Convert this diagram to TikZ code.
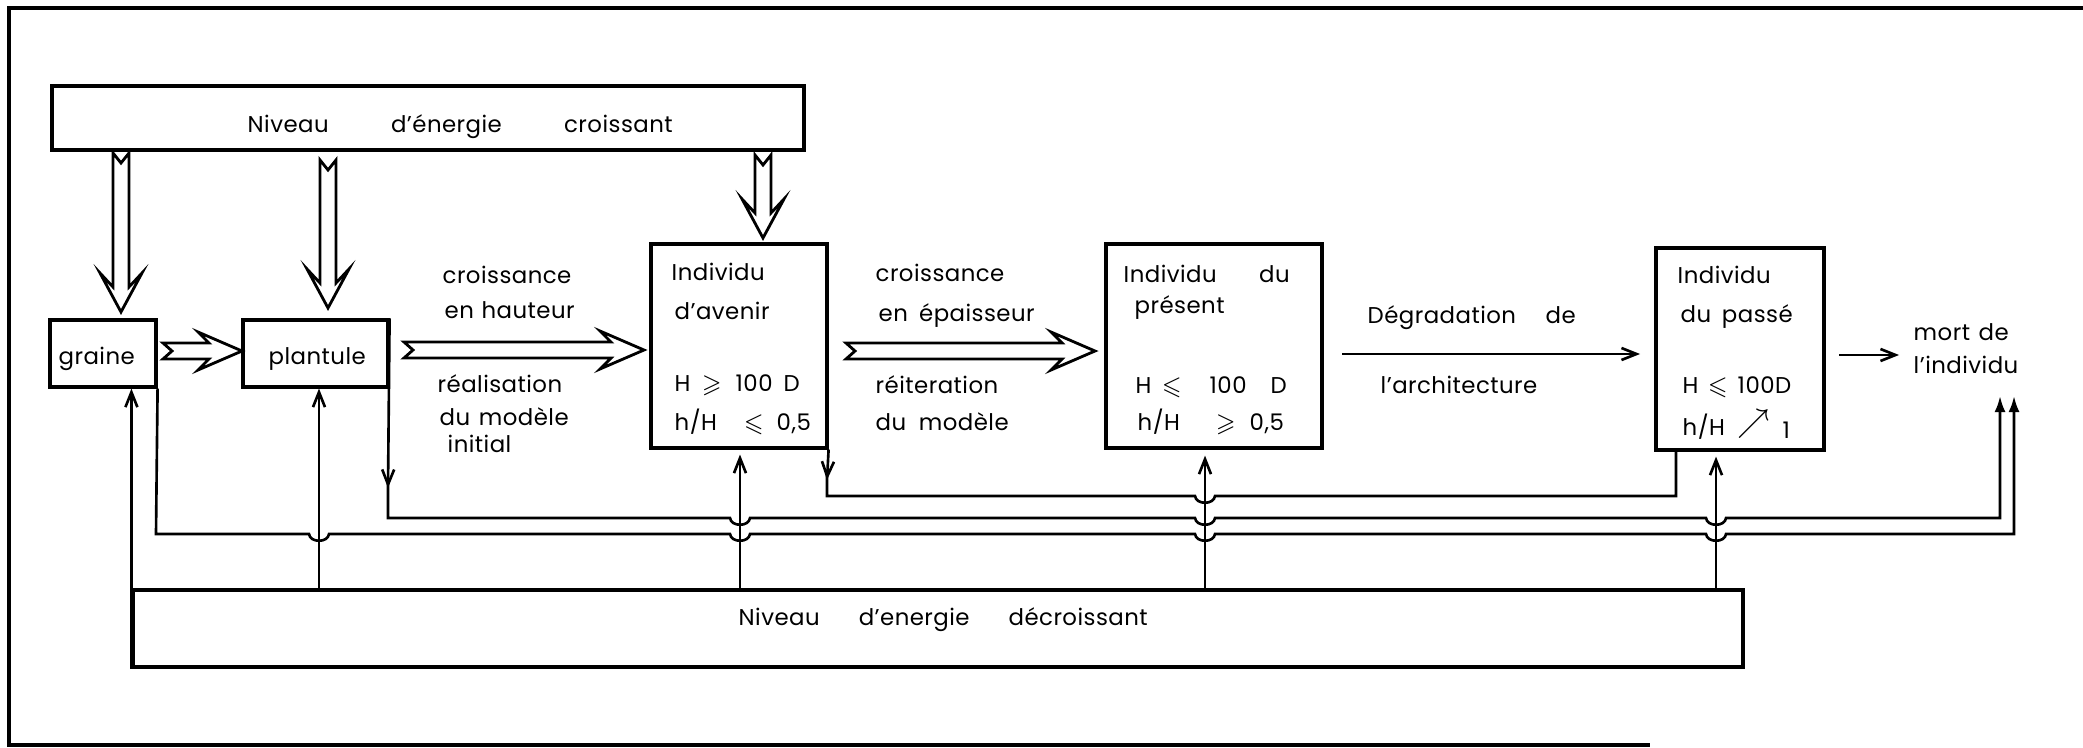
\documentclass[tikz,border=0pt]{standalone}
\usepackage{amssymb}
\usepackage{fontspec}
\setmainfont{Poppins}[LetterSpace=2]
\usetikzlibrary{arrows.meta,fit,calc}
\newcommand\hop[2]{-- (#1-10,#2) .. controls (#1-9,#2+9) and (#1+9,#2+9) .. (#1+10,#2)}
\newcommand\hollowR[3]{\draw[hollow] (#1,#3-8) -- (#2-33,#3-8) -- (#2-44,#3-19) -- (#2,#3) -- (#2-44,#3+19) -- (#2-33,#3+8) -- (#1,#3+8) -- (#1+9,#3) -- cycle;}
\newcommand\hollowD[3]{\draw[hollow] (#1-8,#2) -- (#1,#2+10) -- (#1+8,#2) -- (#1+8,#3-25) -- (#1+21,#3-39) -- (#1,#3) -- (#1-21,#3-39) -- (#1-8,#3-25) -- cycle;}
\newcommand\txt[4]{\node[txt] (#1) at (#2,#3) {#4};}
\begin{document}
\begin{tikzpicture}[x=0.1mm,y=-0.1mm,
 box/.style={draw,line width=0.9pt,inner sep=0pt},
 txt/.style={inner sep=0pt,anchor=base west,font=\fontsize{6.5}{8}\selectfont},
 conn/.style={line width=0.75pt},
 hollow/.style={draw,line width=0.8pt,line join=miter,fill=white},
 openarr/.style={-{Straight Barb[length=1.5mm,width=1.2mm,line width=0.75pt]}},
 solidarr/.style={-{Latex[length=1.6mm,width=1.1mm]}},
]
\useasboundingbox (0,0) rectangle (2083,747);
% frame
\draw[line width=0.9pt] (2083,8) -- (9,8) -- (9,745) -- (1650,745);
% boxes
\coordinate (a1) at (52,86);   \coordinate (a2) at (804,150);
\node[box,fit=(a1)(a2)] (top) {};
\coordinate (b1) at (50,320);  \coordinate (b2) at (156,387);
\node[box,fit=(b1)(b2)] (graine) {};
\coordinate (c1) at (243,320); \coordinate (c2) at (388,387);
\node[box,fit=(c1)(c2)] (plantule) {};
\coordinate (d1) at (651,244); \coordinate (d2) at (827,448);
\node[box,fit=(d1)(d2)] (avenir) {};
\coordinate (e1) at (1106,244); \coordinate (e2) at (1322,448);
\node[box,fit=(e1)(e2)] (present) {};
\coordinate (f1) at (1656,248); \coordinate (f2) at (1824,450);
\node[box,fit=(f1)(f2)] (passe) {};
\coordinate (g1) at (133,590); \coordinate (g2) at (1743,667);
\node[box,fit=(g1)(g2)] (bottom) {};
% x positions of vertical feeds
\coordinate (xp) at (319,0);
\coordinate (xa) at (740,0);
\coordinate (xr) at (1205,0);
\coordinate (xs) at (1716,0);
\coordinate (m1) at (2000,396);
\coordinate (m2) at (2014,396);
% hollow arrows
\hollowD{121}{153}{312}
\hollowD{328}{160}{308}
\hollowD{763}{155}{238}
\hollowR{163}{242}{351}
\hollowR{404}{644}{350}
\hollowR{846}{1095}{351}
% feedback lines
\draw[conn,solidarr] (graine.south east) -- (156,534) \hop{319}{534} \hop{740}{534} \hop{1205}{534} \hop{1716}{534} -- (m2 |- 0,534) -- (m2);
\draw[conn,openarr] (plantule.north east) -- (388,488);
\draw[conn,solidarr] (388,480) -- (388,518) \hop{740}{518} \hop{1205}{518} \hop{1716}{518} -- (m1 |- 0,518) -- (m1);
\draw[conn,openarr] (avenir.south east) -- (827,480);
\draw[conn] (827,472) -- (827,496) \hop{1205}{496} -- (1676,496) -- (1676,450);
% upward arrows from bottom box
\draw[conn,openarr] (bottom.south west) -- (bottom.west |- graine.south);
\draw[conn,openarr] (xp |- bottom.north) -- (xp |- plantule.south);
\draw[conn,openarr,shorten >=0.5mm] (xa |- bottom.north) -- (xa |- avenir.south);
\draw[conn,openarr,shorten >=0.6mm] (xr |- bottom.north) -- (xr |- present.south);
\draw[conn,openarr,shorten >=0.5mm] (xs |- bottom.north) -- (xs |- passe.south);
% thin horizontal arrows
\coordinate (h1) at (1342,354); \coordinate (h2) at (1640,354);
\draw[conn,openarr] (h1) -- (h2);
\coordinate (h3) at (1839,355); \coordinate (h4) at (1899,355);
\draw[conn,openarr] (h3) -- (h4);
% texts
\txt{t1}{247}{132}{\makebox[42.5mm][s]{Niveau d’énergie croissant}}
\txt{t2}{58}{364}{graine}
\txt{t3}{268}{364}{plantule}
\txt{t4}{442}{283}{croissance}
\txt{t5}{444}{318}{\makebox[13mm][s]{en hauteur}}
\txt{t6}{437}{392}{réalisation}
\txt{t7}{439}{425}{\makebox[12.9mm][s]{du modèle}}
\txt{t8}{447}{452}{initial}
\txt{t9}{671}{280}{Individu}
\txt{t10}{674}{319}{d’avenir}
\txt{t11}{674}{391}{H}
\txt{t12}{701}{391}{$\geqslant$}
\txt{t13}{735}{391}{\makebox[6.4mm][s]{100 D}}
\txt{t14}{674}{430}{h/H}
\txt{t15}{743}{430}{$\leqslant$}
\txt{t16}{776}{430}{0,5}
\txt{t17}{875}{281}{croissance}
\txt{t18}{878}{321}{\makebox[15.6mm][s]{en épaisseur}}
\txt{t19}{875}{393}{réiteration}
\txt{t20}{875}{430}{\makebox[13.3mm][s]{du modèle}}
\txt{t21}{1123}{282}{\makebox[16.6mm][s]{Individu du}}
\txt{t22}{1134}{313}{présent}
\txt{t23}{1135}{393}{H}
\txt{t24}{1161}{393}{$\leqslant$}
\txt{t25}{1209}{393}{\makebox[7.7mm][s]{100 D}}
\txt{t26}{1137}{430}{h/H}
\txt{t27}{1215}{430}{$\geqslant$}
\txt{t28}{1249}{430}{0,5}
\txt{t29}{1367}{323}{\makebox[20.8mm][s]{Dégradation de}}
\txt{t30}{1380}{393}{l’architecture}
\txt{t31}{1677}{283}{Individu}
\txt{t32}{1680}{322}{\makebox[11.2mm][s]{du passé}}
\txt{t33}{1682}{393}{H}
\txt{t34}{1707}{393}{$\leqslant$}
\txt{t35}{1737}{393}{100D}
\txt{t36}{1682}{435}{h/H}
\node[inner sep=0pt,anchor=base west,font=\fontsize{9}{9}\selectfont] (t37) at (1737,431) {$\nearrow$};
\txt{t38}{1782}{438}{1}
\txt{t39}{1913}{340}{\makebox[9.5mm][s]{mort de}}
\txt{t40}{1913}{373}{l’individu}
\txt{t41}{738}{625}{\makebox[40.9mm][s]{Niveau d’energie décroissant}}
\end{tikzpicture}
\end{document}
